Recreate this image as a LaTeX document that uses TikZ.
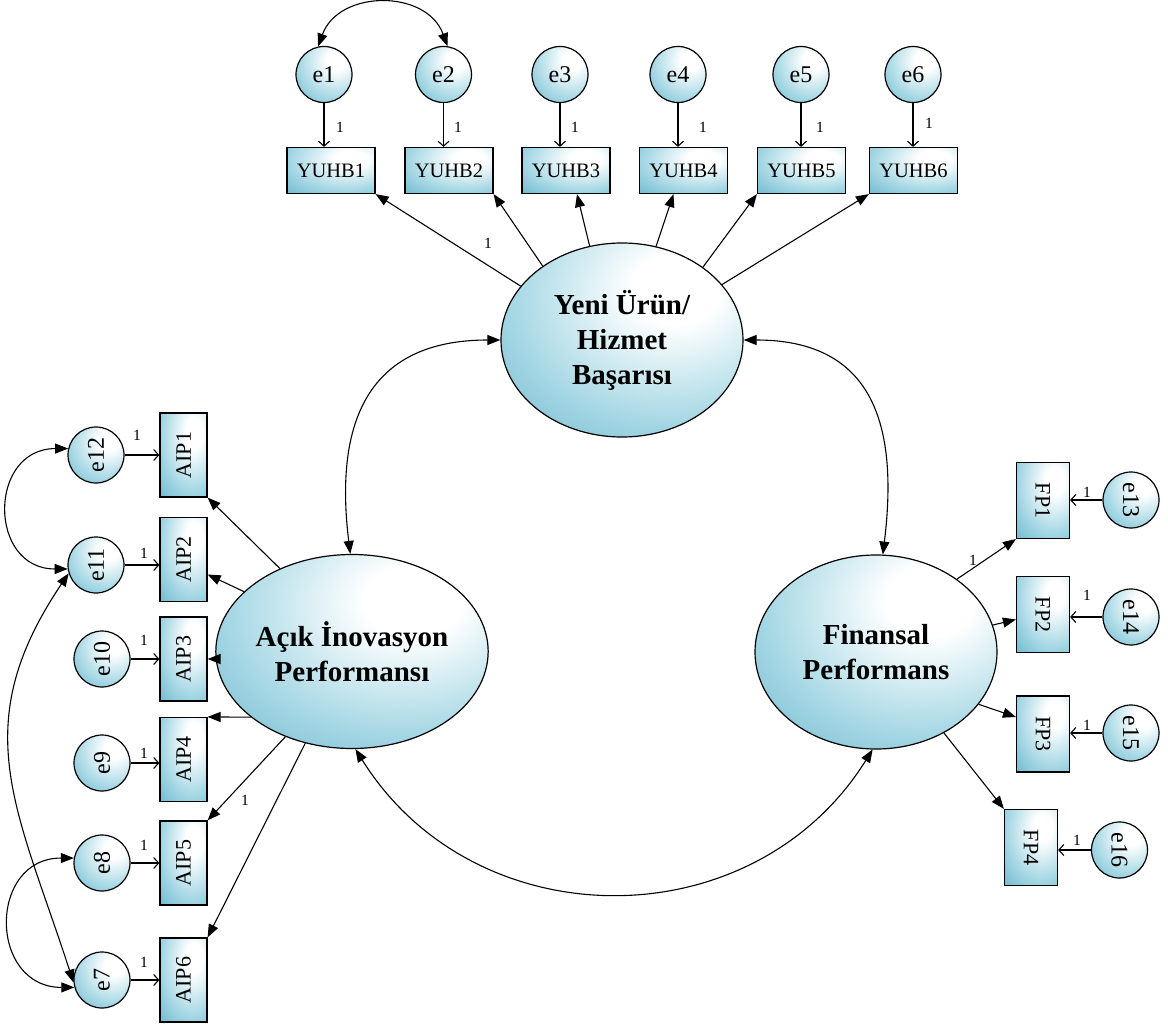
\documentclass[tikz,border=0pt]{standalone}
\usepackage{fontspec}
\setmainfont{Liberation Serif}
\usetikzlibrary{arrows.meta,shapes.geometric,calc}
\definecolor{amosteal}{RGB}{78,166,192}
\definecolor{amosmid}{RGB}{165,215,228}
\pgfdeclareradialshading{amosshade}{\pgfpoint{12bp}{14bp}}{color(0bp)=(white); color(9bp)=(white); color(32bp)=(amosmid); color(58bp)=(amosteal); color(130bp)=(amosteal)}
\tikzset{
 lat/.style={ellipse, draw, line width=1.2pt, shade, shading=amosshade, minimum width=242pt, minimum height=194pt, inner sep=0pt, align=center, font=\fontsize{29}{35}\selectfont\bfseries},
 obs/.style={rectangle, draw, line width=1.2pt, shade, shading=amosshade, inner sep=0pt, font=\fontsize{20.5}{24}\selectfont},
 hbox/.style={obs, minimum width=88pt, minimum height=46pt},
 aipbox/.style={obs, minimum width=47pt, minimum height=84pt, font=\fontsize{22}{24}\selectfont},
 fpbox/.style={obs, minimum width=53pt, minimum height=76pt, font=\fontsize{22}{24}\selectfont},
 err/.style={circle, draw, line width=1.2pt, shade, shading=amosshade, minimum size=56pt, inner sep=0pt, font=\fontsize{24}{26}\selectfont},
 one/.style={font=\fontsize{15.5}{17}\selectfont, inner sep=0pt},
 load/.style={line width=1.1pt, -{Triangle[length=13pt,width=10pt]}},
 erra/.style={line width=1.1pt, -{Straight Barb[length=5pt,width=11pt]}},
 cov/.style={line width=1.1pt, {Triangle[length=13pt,width=10pt]}-{Triangle[length=13pt,width=10pt]}},
}
\begin{document}
\begin{tikzpicture}[x=1pt,y=1pt]
\useasboundingbox (0,0) rectangle (1168,-1025);

% latent variables
\node[lat] (yeni) at (622,-340) {Yeni Ürün/\\Hizmet\\Başarısı};
\node[lat] (aik) at (352,-651.5) {Açık İnovasyon\\Performansı};
\node[lat] (fin) at (876,-652) {Finansal\\Performans};

% top observed
\node[hbox] (Y1) at (331,-170.5) {YUHB1};
\node[hbox] (Y2) at (449,-170.5) {YUHB2};
\node[hbox] (Y3) at (566,-170.5) {YUHB3};
\node[hbox] (Y4) at (683.5,-170.5) {YUHB4};
\node[hbox] (Y5) at (801.5,-170.5) {YUHB5};
\node[hbox] (Y6) at (913.5,-170.5) {YUHB6};

\node[err] (e1) at (324,-74.5) {e1};
\node[err] (e2) at (443.5,-74.5) {e2};
\node[err] (e3) at (560,-74.5) {e3};
\node[err] (e4) at (678,-74.5) {e4};
\node[err] (e5) at (801,-74.5) {e5};
\node[err] (e6) at (913,-74.5) {e6};

\foreach \i in {1,...,6}{\draw[erra] (e\i) -- (e\i |- Y\i.north);}
\node[one] (l1) at (340,-127) {1};
\node[one] (l2) at (458,-127) {1};
\node[one] (l3) at (575,-127) {1};
\node[one] (l4) at (703,-127) {1};
\node[one] (l5) at (820,-127) {1};
\node[one] (l6) at (929,-123) {1};

% left observed
\node[aipbox] (A1) at (183.5,-455) {\rotatebox{90}{AIP1}};
\node[aipbox] (A2) at (183.5,-559.5) {\rotatebox{90}{AIP2}};
\node[aipbox] (A3) at (183.5,-659) {\rotatebox{90}{AIP3}};
\node[aipbox] (A4) at (183.5,-759.5) {\rotatebox{90}{AIP4}};
\node[aipbox] (A5) at (183.5,-863) {\rotatebox{90}{AIP5}};
\node[aipbox] (A6) at (183.5,-980) {\rotatebox{90}{AIP6}};

\node[err] (e12) at (96,-455) {\rotatebox{90}{e12}};
\node[err] (e11) at (96,-565) {\rotatebox{90}{e11}};
\node[err] (e10) at (102,-659) {\rotatebox{90}{e10}};
\node[err] (e9) at (102,-763) {\rotatebox{90}{e9}};
\node[err] (e8) at (102,-863) {\rotatebox{90}{e8}};
\node[err] (e7) at (102,-980) {\rotatebox{90}{e7}};

\draw[erra] (e12) -- (e12 -| A1.west);
\draw[erra] (e11) -- (e11 -| A2.west);
\draw[erra] (e10) -- (e10 -| A3.west);
\draw[erra] (e9) -- (e9 -| A4.west);
\draw[erra] (e8) -- (e8 -| A5.west);
\draw[erra] (e7) -- (e7 -| A6.west);
\node[one] (l12) at (137,-435) {1};
\node[one] (l11) at (144,-553) {1};
\node[one] (l10) at (144,-640) {1};
\node[one] (l9) at (144,-753) {1};
\node[one] (l8) at (144,-845) {1};
\node[one] (l7) at (144,-962) {1};

% right observed
\node[fpbox] (F1) at (1043,-500.5) {\rotatebox{-90}{FP1}};
\node[fpbox] (F2) at (1043,-614.5) {\rotatebox{-90}{FP2}};
\node[fpbox] (F3) at (1043,-734) {\rotatebox{-90}{FP3}};
\node[fpbox] (F4) at (1031,-847.5) {\rotatebox{-90}{FP4}};

\node[err] (e13) at (1131,-500) {\rotatebox{-90}{e13}};
\node[err] (e14) at (1131,-617) {\rotatebox{-90}{e14}};
\node[err] (e15) at (1131,-733) {\rotatebox{-90}{e15}};
\node[err] (e16) at (1119.5,-850) {\rotatebox{-90}{e16}};

\draw[erra] (e13) -- (e13 -| F1.east);
\draw[erra] (e14) -- (e14 -| F2.east);
\draw[erra] (e15) -- (e15 -| F3.east);
\draw[erra] (e16) -- (e16 -| F4.east);
\node[one] (l13) at (1087,-492) {1};
\node[one] (l14) at (1087,-595) {1};
\node[one] (l15) at (1087,-725) {1};
\node[one] (l16) at (1077,-840) {1};

% loadings
\draw[load] (yeni.152) -- (Y1.south east);
\draw[load] (yeni.137) -- (Y2.south east);
\draw[load] (yeni.109) -- ([xshift=11pt]Y3.south);
\draw[load] (yeni.70) -- ([xshift=-10pt]Y4.south);
\draw[load] (yeni.42) -- (Y5.south west);
\draw[load] (yeni.29) -- (Y6.south west);
\node[one] (ly) at (488,-243) {1};

\draw[load] (aik.131) -- (A1.south east);
\draw[load] (aik.151) -- ([yshift=-15pt]A2.east);
\draw[load] (A3.east -| aik.west) -- (A3.east);
\draw[load] (aik.213) -- (A4.north east);
\draw[load] (aik.232) -- (A5.north east);
\draw[load] (aik.243) -- (A6.north east);
\node[one] (la) at (245,-800) {1};

\draw[load] (fin.42) -- (F1.south west);
\draw[load] (fin.13) -- ([yshift=-5pt]F2.west);
\draw[load] (fin.333) -- ([yshift=17pt]F3.west);
\draw[load] (fin.310) -- (F4.north west);
\node[one] (lf) at (973,-560) {1};

% covariances
\draw[cov] (e1.102) to[out=70,in=110,looseness=1.2] (e2.82);
\draw[cov] (e12.167) to[out=180,in=180,looseness=1.7] (e11.188);
\draw[cov] (e11.197) to[out=236,in=108,looseness=1.15] (e7.185);
\draw[cov] (e8.170) to[out=180,in=180,looseness=1.7] (e7.195);

\draw[cov] (aik.91) to[out=97,in=180,looseness=1.3] (yeni.west);
\draw[cov] (yeni.east) to[out=0,in=83,looseness=1.3] (fin.86);
\draw[cov] (aik.272) to[out=-58,in=238,looseness=1.12] (fin.268);
\end{tikzpicture}
\end{document}
